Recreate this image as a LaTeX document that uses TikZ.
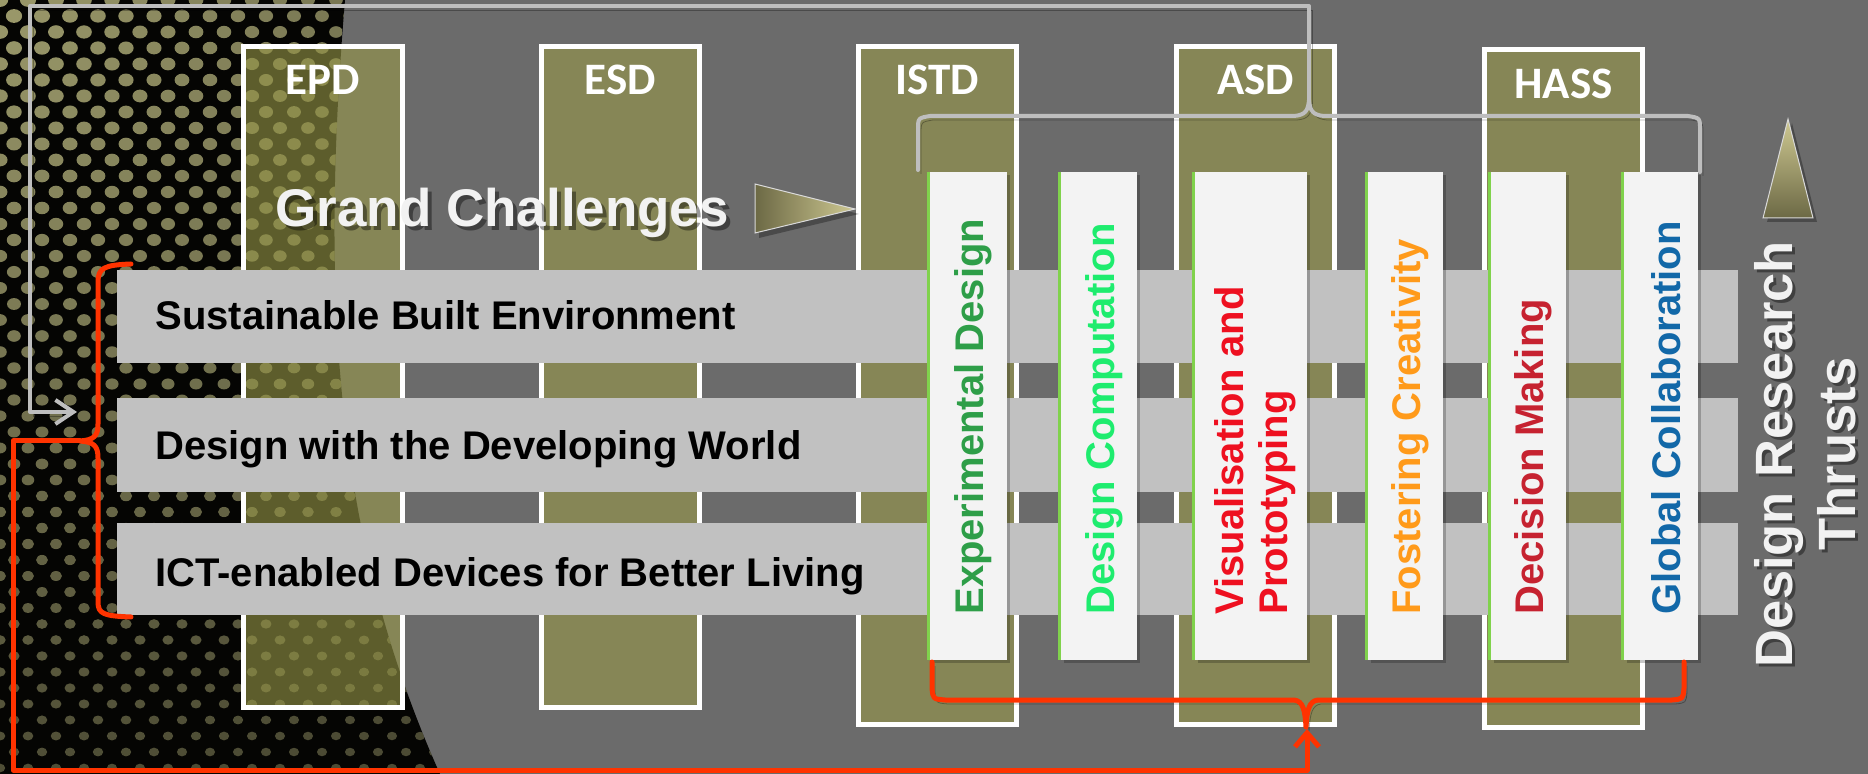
\documentclass[tikz,border=0pt]{standalone}
\usepackage{fontspec}
\setmainfont{Liberation Sans}
\newfontfamily\carlito{Carlito}
\usetikzlibrary{arrows.meta}
\definecolor{bgc}{HTML}{6B6B6B}
\definecolor{olivec}{RGB}{152,152,72}
\definecolor{barc}{HTML}{C1C1C1}
\definecolor{boxc}{HTML}{F3F3F3}
\definecolor{edgec}{HTML}{80D24C}
\definecolor{grayl}{HTML}{BEBEBE}
\definecolor{redl}{HTML}{FF3300}
\definecolor{dotc}{HTML}{A3A170}
\definecolor{darkbg}{HTML}{050503}
\definecolor{cexp}{HTML}{2E9E48}
\definecolor{ccomp}{HTML}{1EEC6E}
\definecolor{cvis}{HTML}{EE1020}
\definecolor{cfos}{HTML}{FF9A1A}
\definecolor{cdec}{HTML}{C62230}
\definecolor{cglob}{HTML}{1268A8}
\definecolor{wtext}{HTML}{F2F2F2}
\definecolor{trilight}{HTML}{CFC992}
\definecolor{tridark}{HTML}{6C6945}
\tikzset{
 dept/.style={draw=white, line width=2.5pt, fill=olivec, fill opacity=0.6},
 deptlabel/.style={text=white, font=\carlito\bfseries\fontsize{22.5pt}{27pt}\selectfont, inner sep=0pt},
 bar/.style={fill=barc},
 bartext/.style={text=black, font=\bfseries\fontsize{20pt}{23pt}\selectfont, inner sep=0pt, anchor=base west},
 thrustbox/.style={fill=boxc},
 boxshadow/.style={fill=black, opacity=0.22},
 greenedge/.style={draw=edgec, line width=1.5pt},
 thrusttext/.style={font=\bfseries\fontsize{20pt}{22pt}\selectfont, inner sep=0pt, rotate=90, anchor=west, align=left},
 lineshadow/.style={preaction={draw=black, opacity=0.3, transform canvas={shift={(1.5pt,-2pt)}}}},
 grayline/.style={draw=grayl, line width=2pt, line cap=round, line join=round},
 redline/.style={draw=redl, line width=2.5pt, line cap=round, line join=round},
 bigwhite/.style={font=\bfseries\fontsize{26.5pt}{30pt}\selectfont, inner sep=0pt},
 drtfont/.style={font=\bfseries\fontsize{26.25pt}{31.5pt}\selectfont, inner sep=0pt, rotate=90, align=center},
}
\begin{document}
\begin{tikzpicture}[x=0.5pt,y=-0.5pt]
\useasboundingbox (0,0) rectangle (1868,774);
\fill[bgc] (0,0) rectangle (1868,774);
% patterned dark region
\begin{scope}
 \clip (0,0) -- (345,0) .. controls (320,300) and (335,540) .. (440,774) -- (0,774) -- cycle;
 \fill[darkbg] (0,0) rectangle (460,774);
 \foreach \j in {0,...,49}{
  \foreach \i in {0,...,16}{
   \pgfmathsetmacro\xx{\i*28+mod(\j,2)*14}
   \pgfmathsetmacro\yy{\j*16}
   \pgfmathsetmacro\dd{min(1,veclen(\xx,\yy)/800)}
   \pgfmathsetmacro\op{0.95-0.5*\dd}
   \pgfmathsetmacro\rr{4.1-1.6*\dd}
   \fill[dotc, opacity=\op] (\xx,\yy) ellipse ({\rr pt} and {0.85*\rr pt});
  }
 }
\end{scope}
% department columns
\draw[dept] (243.5,46.5) rectangle (402.5,707.5);
\draw[dept] (541.5,46.5) rectangle (699.5,707.5);
\draw[dept] (858.5,46.5) rectangle (1016.5,724.5);
\draw[dept] (1176.5,46.5) rectangle (1334.5,724.5);
\draw[dept] (1484.5,49.5) rectangle (1642.5,727.5);
\node[deptlabel] (epd) at (323,80) {EPD};
\node[deptlabel] (esd) at (620.5,80) {ESD};
\node[deptlabel] (istd) at (937.5,80) {ISTD};
\node[deptlabel] (asd) at (1255.5,80) {ASD};
\node[deptlabel] (hass) at (1563.5,84) {HASS};
% Grand Challenges
\node[bigwhite, text=black, opacity=0.4, anchor=base west] (gcshadow) at (279,231) {Grand Challenges};
\node[bigwhite, text=wtext, anchor=base west] (gc) at (275,227) {Grand Challenges};
\fill[black, opacity=0.3] (759,189) -- (859,214) -- (759,238) -- cycle;
\shade[left color=tridark, right color=trilight] (755,184) -- (855,209) -- (755,233) -- cycle;
\draw[white!85!black, line width=0.5pt] (755,184) -- (855,209) -- (755,233) -- cycle;
% challenge bars
\fill[bar] (117,270) rectangle (1738,363);
\fill[bar] (117,398) rectangle (1738,492);
\fill[bar] (117,523) rectangle (1738,615);
\node[bartext] (sbe) at (155,330) {Sustainable Built Environment};
\node[bartext] (dwdw) at (155,460) {Design with the Developing World};
\node[bartext] (ict) at (155,587) {ICT-enabled Devices for Better Living};
% thrust boxes
\foreach \l/\r in {930/1007, 1061/1137, 1195/1307, 1368/1443, 1491/1566, 1624/1698}{
  \fill[boxshadow] (\l+3,175) rectangle (\r+3,663);
  \fill[thrustbox] (\l,172) rectangle (\r,660);
  \draw[greenedge] (\l-2,172) -- (\l-2,660);
}
\node[thrusttext, text=cexp] (t1) at (973.5,615) {Experimental Design};
\node[thrusttext, text=ccomp] (t2) at (1104,615) {Design Computation};
\node[thrusttext, text=cvis] (t3) at (1255,615) {Visualisation and\\Prototyping};
\node[thrusttext, text=cfos] (t4) at (1410.5,615) {Fostering Creativity};
\node[thrusttext, text=cdec] (t5) at (1533.5,615) {Decision Making};
\node[thrusttext, text=cglob] (t6) at (1666,615) {Global Collaboration};
% gray brace and loop back
\draw[grayline, lineshadow] (918,170) -- (918,130) .. controls (918,118) .. (930,116) -- (1294,116) .. controls (1306,115) and (1308,110) .. (1309,100) .. controls (1310,110) and (1312,115) .. (1324,116) -- (1688,116) .. controls (1700,118) .. (1700,130) -- (1700,172);
\coordinate (gtip) at (1309,100);
\coordinate (gcorner1) at (1309,6);
\coordinate (gcorner2) at (30,6);
\coordinate (gcorner3) at (30,412);
\coordinate (garrow) at (77,412);
\draw[grayline, lineshadow, -{Straight Barb[length=9pt,width=12pt]}] (gtip) -- (gcorner1) -- (gcorner2) -- (gcorner3) -- (garrow);
% red braces and connector
\draw[redline] (131,264) .. controls (104,265) and (98,268) .. (98,282) -- (98,424) .. controls (98,436) and (94,440) .. (80,441) .. controls (94,442) and (98,446) .. (98,458) -- (98,602) .. controls (98,614) and (104,616) .. (131,617);
\draw[redline, lineshadow] (932,662) -- (932,688) .. controls (933,699) .. (945,700) -- (1294,700) .. controls (1303,701) and (1305,710) .. (1306,727) .. controls (1307,710) and (1309,701) .. (1318,700) -- (1672,700) .. controls (1683,699) .. (1684,688) -- (1684,662);
\coordinate (rtip) at (80,441);
\coordinate (rcorner1) at (13,441);
\coordinate (rcorner2) at (13,770);
\coordinate (rcorner3) at (1307,770);
\coordinate (rarrow) at (1307,729);
\draw[redline, -{Straight Barb[length=7pt,width=12pt]}] (rtip) -- (rcorner1) -- (rcorner2) -- (rcorner3) -- (rarrow);
% Design Research Thrusts
\fill[black, opacity=0.3] (1792,123) -- (1817,222) -- (1767,222) -- cycle;
\shade[top color=trilight, bottom color=tridark] (1788,119) -- (1813,218) -- (1763,218) -- cycle;
\draw[white!85!black, line width=0.5pt] (1788,119) -- (1813,218) -- (1763,218) -- cycle;
\node[drtfont, text=black, opacity=0.4] (drtshadow) at (1808,457) {Design Research\\Thrusts};
\node[drtfont, text=wtext] (drt) at (1805,454) {Design Research\\Thrusts};
\end{tikzpicture}
\end{document}
